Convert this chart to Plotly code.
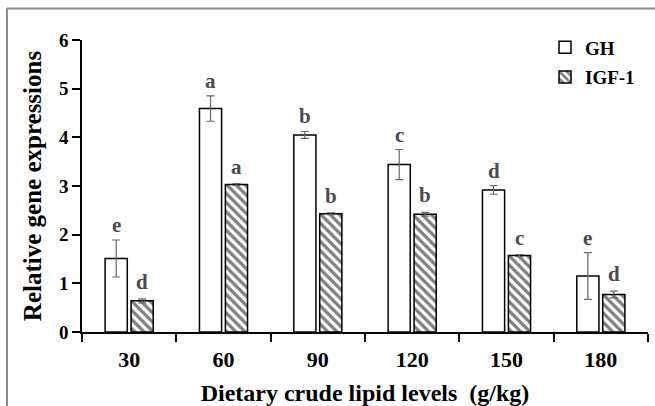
import plotly.graph_objects as go

categories = ["30", "60", "90", "120", "150", "180"]
gh_values = [1.51, 4.59, 4.05, 3.44, 2.92, 1.15]
gh_errors = [0.38, 0.26, 0.07, 0.31, 0.09, 0.48]
igf_values = [0.64, 3.03, 2.43, 2.42, 1.57, 0.77]
igf_errors = [0.04, 0.02, 0.02, 0.04, 0.02, 0.07]
gh_letters = ["e", "a", "b", "c", "d", "e"]
igf_letters = ["d", "a", "b", "b", "c", "d"]
y_ticks = [0, 1, 2, 3, 4, 5, 6]

FONT = "Liberation Serif"
W, H = 655, 406
L, R, T, B = 82, 7, 39.5, 74.3
pw, ph = W - L - R, H - T - B
LETTER_COLOR = "#4a4a50"

fig = go.Figure()
bar_w = 0.235
fig.add_trace(go.Bar(
    x=categories, y=gh_values, name="GH", width=bar_w, offset=-0.255,
    marker=dict(color="white", line=dict(color="black", width=1.5)),
    error_y=dict(type="data", array=gh_errors, color="#666", thickness=1.2, width=4),
    legendgroup="gh",
))
fig.add_trace(go.Bar(
    x=categories, y=igf_values, name="IGF-1", width=bar_w, offset=0.02,
    marker=dict(color="white", line=dict(color="black", width=1.5),
                pattern=dict(shape="\\", size=6.5, solidity=0.5, fgcolor="black", bgcolor="white")),
    error_y=dict(type="data", array=igf_errors, color="#666", thickness=1.2, width=4),
    legendgroup="igf",
))

annotations = []
for i, c in enumerate(categories):
    annotations.append(dict(x=i - 0.255 + bar_w / 2, y=gh_values[i] + gh_errors[i], xref="x", yref="y",
                            text=gh_letters[i], showarrow=False, yanchor="bottom", yshift=1,
                            font=dict(family=FONT, size=21, color=LETTER_COLOR, weight="bold")))
    annotations.append(dict(x=i + 0.02 + bar_w / 2, y=igf_values[i] + igf_errors[i], xref="x", yref="y",
                            text=igf_letters[i], showarrow=False, yanchor="bottom", yshift=3,
                            font=dict(family=FONT, size=21, color=LETTER_COLOR, weight="bold")))

# outer frame (gray border of the figure image)
fx = (7 - L) / pw
fy = (H - B - 8) / ph
shapes = [
    dict(type="line", xref="paper", yref="paper", x0=fx, x1=fx, y0=fy, y1=-0.5,
         line=dict(color="#8a8a8a", width=2)),
    dict(type="line", xref="paper", yref="paper", x0=fx, x1=1.5, y0=fy, y1=fy,
         line=dict(color="#8a8a8a", width=2)),
]

fig.update_layout(
    width=W, height=H,
    margin=dict(l=L, r=R, t=T, b=B, autoexpand=False),
    paper_bgcolor="white", plot_bgcolor="white",
    font=dict(family=FONT, color="black"),
    barmode="group",
    showlegend=True,
    legend=dict(x=(545 - L) / pw, y=(H - B - 28) / ph, xanchor="left", yanchor="top",
                font=dict(family=FONT, size=19, color="black", weight="bold"),
                bgcolor="rgba(0,0,0,0)", tracegroupgap=2, itemwidth=30),
    annotations=annotations,
    shapes=shapes,
    xaxis=dict(type="category", range=[-0.5, 5.5], showline=True, linecolor="black", linewidth=1.5,
               ticks="outside", tickson="boundaries", ticklen=8, tickwidth=1.5, tickcolor="black",
               showgrid=False, zeroline=False, automargin=False, ticklabelstandoff=7,
               tickfont=dict(family=FONT, size=22, color="black", weight="bold"),
               title=dict(text="Dietary crude lipid levels  (g/kg)", standoff=14,
                          font=dict(family=FONT, size=24, color="black", weight="bold"))),
    yaxis=dict(range=[0, 6], tickvals=y_ticks, showline=True, linecolor="black", linewidth=1.5,
               ticks="outside", ticklen=8, tickwidth=1.5, tickcolor="black",
               showgrid=False, zeroline=False, automargin=False,
               tickfont=dict(family=FONT, size=19, color="black", weight="bold"),
               title=dict(text="Relative gene expressions", standoff=10,
                          font=dict(family=FONT, size=25, color="black", weight="bold"))),
)

fig.write_html("out.html", config={"displayModeBar": False},
               post_script="document.body.style.margin='0';document.body.style.padding='0';")
